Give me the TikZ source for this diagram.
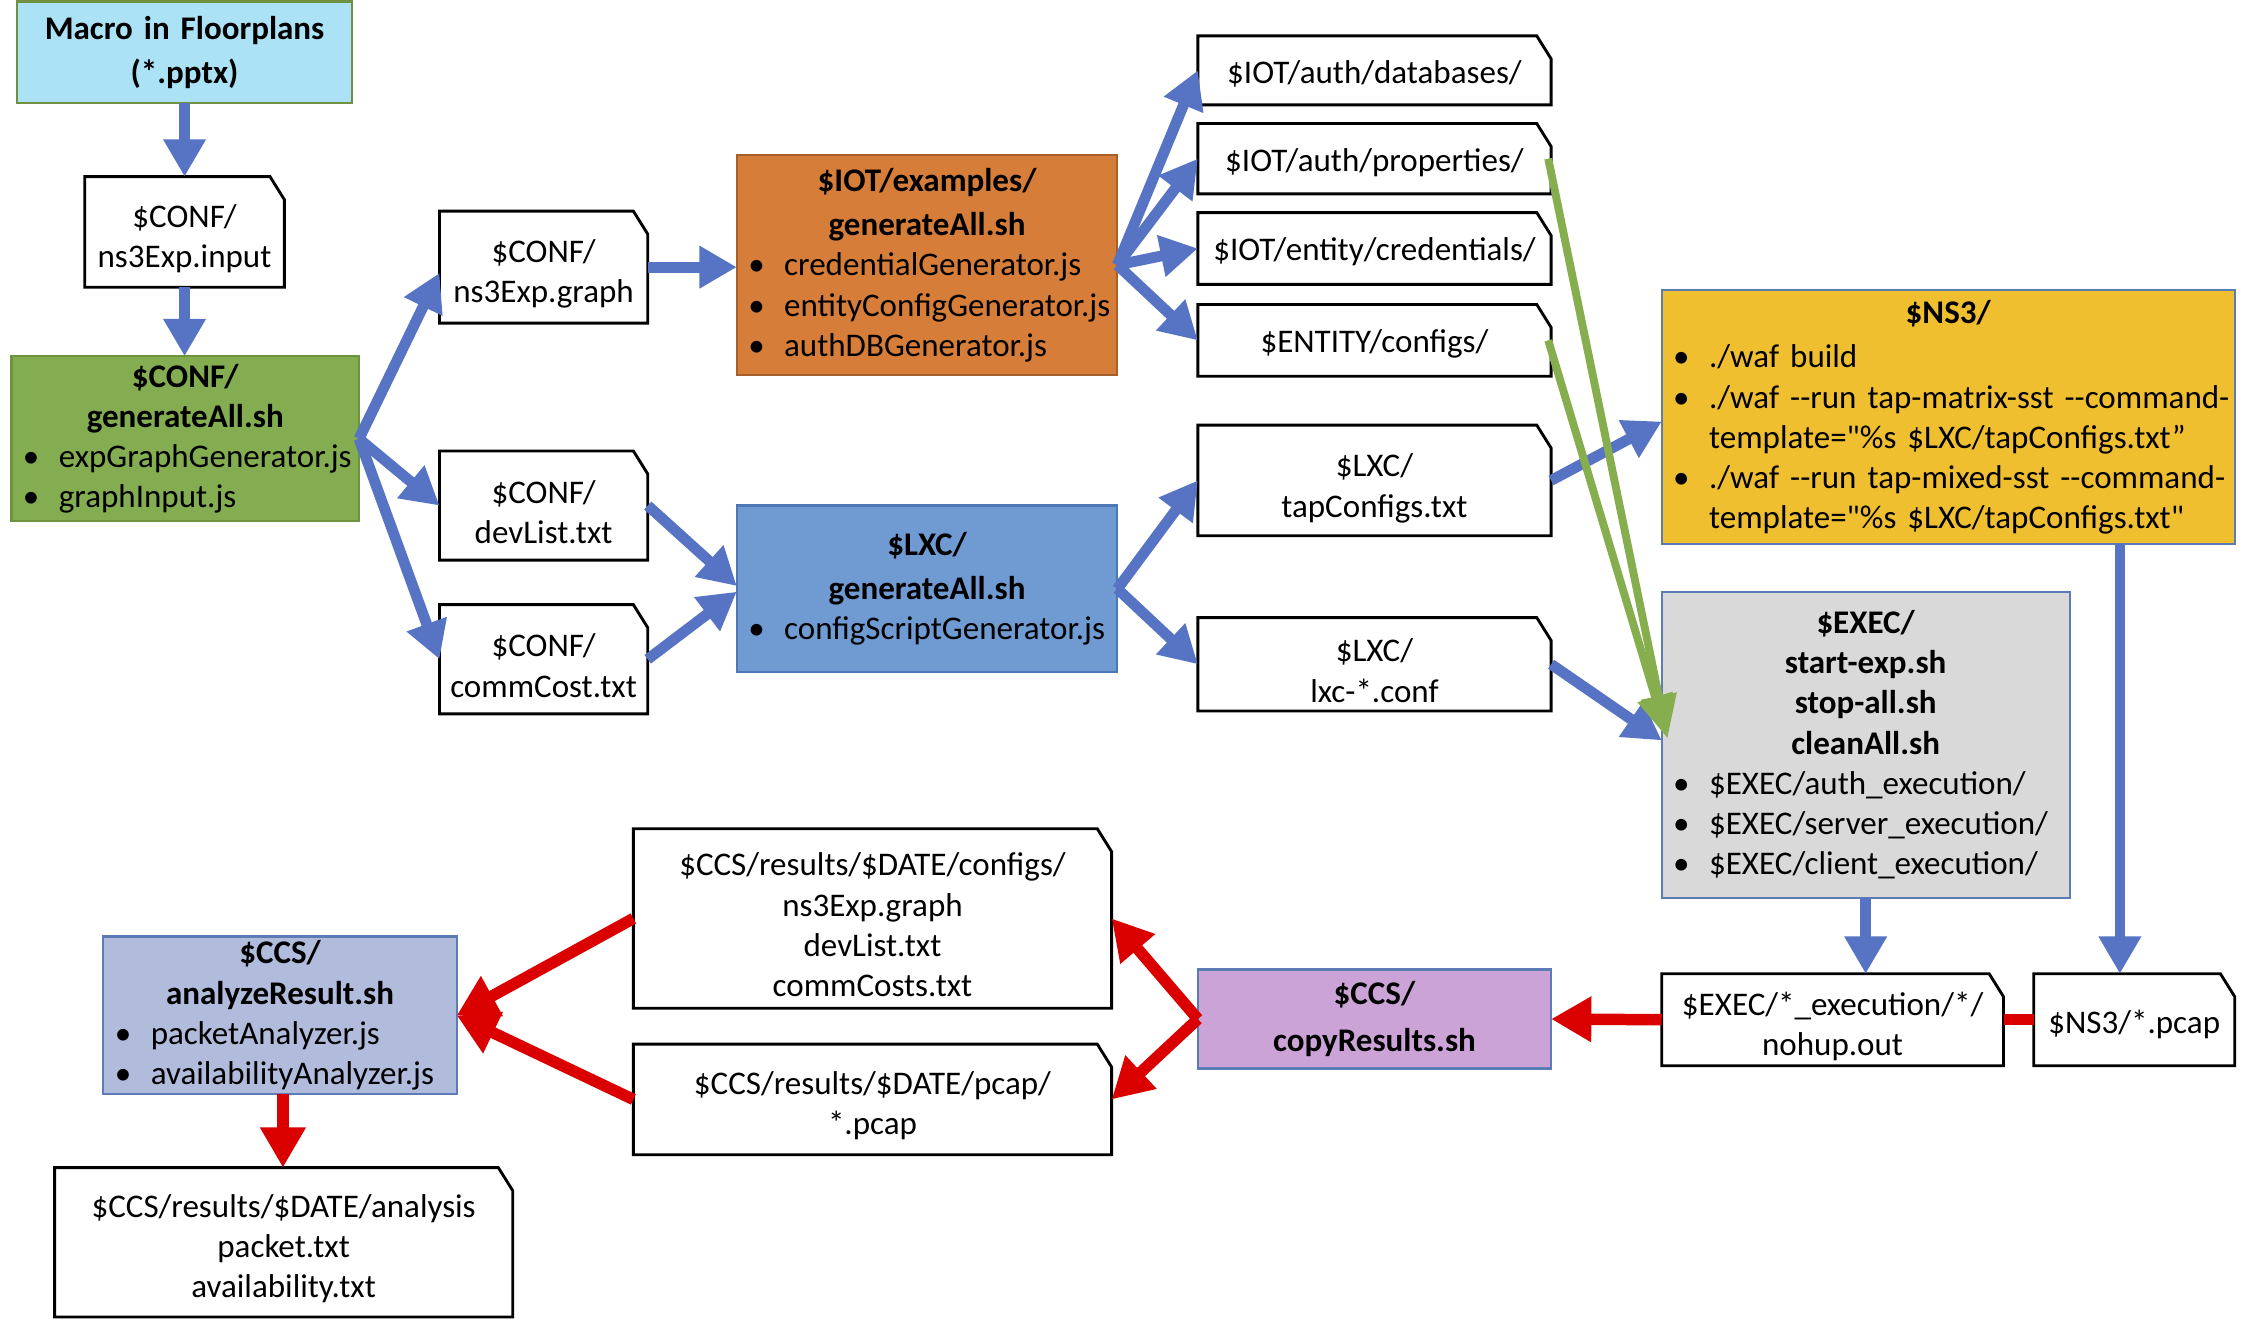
\documentclass[tikz,border=0pt]{standalone}
\usepackage{fontspec}
\newfontfamily\carl{Carlito}
\usetikzlibrary{arrows.meta}

\definecolor{flowblue}{HTML}{5673C4}
\definecolor{flowgreen}{HTML}{86AD4E}
\definecolor{flowred}{HTML}{DA0000}
\definecolor{macrofill}{HTML}{ABE2F5}
\definecolor{macroline}{HTML}{70913F}
\definecolor{conffill}{HTML}{84AD51}
\definecolor{confline}{HTML}{6E9440}
\definecolor{iotfill}{HTML}{D67D39}
\definecolor{iotline}{HTML}{A5602B}
\definecolor{lxcfill}{HTML}{6F9BD2}
\definecolor{lxcline}{HTML}{4C78B5}
\definecolor{nsfill}{HTML}{F0BF2F}
\definecolor{execfill}{HTML}{D9D9D9}
\definecolor{copyfill}{HTML}{CBA3D7}
\definecolor{anafill}{HTML}{B1BBDB}
\definecolor{slateline}{HTML}{5C7CB6}

\newcommand\itembul{\makebox[33pt][l]{\hspace{8pt}\textbullet}}
\newcommand\itemind{\hspace*{33pt}}

\tikzset{
  box/.style={rectangle, inner sep=0pt, outer sep=0pt, align=center,
    font=\carl\fontsize{23}{28}\selectfont},
  doc/.style={box},
  doctext/.style={box, yshift=-4.5pt},
  colbox/.style={box, draw, line width=1.5pt, align=left},
  docline/.style={draw=black, line width=2pt, fill=white, line join=miter},
  barrow/.style={draw=flowblue, line width=7.5pt, -{Triangle[width=28pt,length=26pt]}},
  garrow/.style={draw=flowgreen, line width=5.5pt, -{Triangle[width=24pt,length=30pt]}},
  rarrow/.style={draw=flowred, line width=8pt, -{Triangle[width=30pt,length=28pt]}},
  rline/.style={draw=flowred, line width=8pt},
}

\begin{document}
\begin{tikzpicture}[x=1pt,y=-1pt]
\useasboundingbox (0,0) rectangle (1568,924);

% coloured script boxes
\node[colbox, fill=macrofill, draw=macroline, align=center, text width=233pt, minimum height=71pt] (macro) at (128.5,36.5)
  {\vspace*{3pt}\bfseries Macro in Floorplans\\(*.pptx)};
\node[colbox, fill=conffill, draw=confline, text width=242pt, minimum height=115pt] (cg) at (129,305.5)
  {{\centering\bfseries \$CONF/\\generateAll.sh\par}\itembul expGraphGenerator.js\\\itembul graphInput.js};
\node[colbox, fill=iotfill, draw=iotline, text width=265pt, minimum height=153pt] (iot) at (645.5,184.5)
  {\vspace*{3pt}{\centering\bfseries \$IOT/examples/\\generateAll.sh\par}\itembul credentialGenerator.js\\\itembul entityConfigGenerator.js\\\itembul authDBGenerator.js};
\node[colbox, fill=lxcfill, draw=lxcline, text width=265pt, minimum height=116pt] (lxc) at (645.5,410)
  {\vspace*{3pt}{\centering\bfseries \$LXC/\\generateAll.sh\par}\itembul configScriptGenerator.js};
\node[colbox, fill=nsfill, draw=slateline, text width=399pt, minimum height=177pt] (ns3) at (1356.5,290.5)
  {\vspace*{3pt}{\centering\bfseries \$NS3/\par}\itembul ./waf build\\
   \itembul ./waf --run tap-matrix-sst --command-\\
   \itemind template="\%s \$LXC/tapConfigs.txt”\\
   \itembul ./waf --run tap-mixed-sst --command-\\
   \itemind template="\%s \$LXC/tapConfigs.txt"};
\node[colbox, fill=execfill, draw=slateline, text width=284pt, minimum height=213pt] (exec) at (1299,518.5)
  {{\centering\bfseries \$EXEC/\\start-exp.sh\\stop-all.sh\\cleanAll.sh\par}
   \itembul \$EXEC/auth\_execution/\\\itembul \$EXEC/server\_execution/\\\itembul \$EXEC/client\_execution/};
\node[colbox, fill=copyfill, draw=slateline, align=center, text width=246pt, minimum height=69pt] (copy) at (957,709.5)
  {\vspace*{5pt}\bfseries \$CCS/\\copyResults.sh};
\node[colbox, fill=anafill, draw=slateline, text width=246pt, minimum height=110pt] (ana) at (195,707)
  {{\centering\bfseries \$CCS/\\analyzeResult.sh\par}\itembul packetAnalyzer.js\\\itembul availabilityAnalyzer.js};

% file boxes (outlines drawn below)
\node[doc, minimum width=139pt, minimum height=77pt] (inp) at (128.5,161.5) {};
\node[doc, minimum width=145pt, minimum height=78pt] (graph) at (378.5,186) {};
\node[doc, minimum width=145pt, minimum height=76pt] (dev) at (378.5,352) {};
\node[doc, minimum width=145pt, minimum height=76pt] (cost) at (378.5,459) {};
\node[doc, minimum width=246pt, minimum height=48pt] (db) at (957,49) {};
\node[doc, minimum width=246pt, minimum height=49pt] (prop) at (957,110.5) {};
\node[doc, minimum width=246pt, minimum height=50pt] (cred) at (957,173) {};
\node[doc, minimum width=246pt, minimum height=50pt] (ent) at (957,237) {};
\node[doc, minimum width=246pt, minimum height=77pt] (tap) at (957,334.5) {};
\node[doc, minimum width=246pt, minimum height=65pt] (lxcc) at (957,462.5) {};
\node[doc, minimum width=238pt, minimum height=64pt] (nohup) at (1276,710) {};
\node[doc, minimum width=140pt, minimum height=64pt] (pcap) at (1486,710) {};
\node[doc, minimum width=333pt, minimum height=125pt] (cfgres) at (607.5,639.5) {};
\node[doc, minimum width=333pt, minimum height=77pt] (pcapres) at (607.5,765.5) {};
\node[doc, minimum width=319pt, minimum height=104pt] (anares) at (197.5,865) {};

\foreach \n in {inp,graph,dev,cost,db,prop,cred,ent,tap,lxcc,nohup,pcap,cfgres,pcapres,anares}
  \path[docline] (\n.south west) -- (\n.north west) -- ([xshift=-10pt]\n.north east)
    -- ([yshift=-16pt]\n.north east) -- (\n.south east) -- cycle;

\node[doctext] at (inp) {\$CONF/\\ns3Exp.input};
\node[doctext] at (graph) {\$CONF/\\ns3Exp.graph};
\node[doctext] at (dev) {\$CONF/\\devList.txt};
\node[doctext] at (cost) {\$CONF/\\commCost.txt};
\node[doctext, yshift=2pt] at (db) {\$IOT/auth/databases/};
\node[doctext, yshift=2pt] at (prop) {\$IOT/auth/properties/};
\node[doctext, yshift=2pt] at (cred) {\$IOT/entity/credentials/};
\node[doctext, yshift=2pt] at (ent) {\$ENTITY/configs/};
\node[doctext, yshift=-1pt] at (tap) {\$LXC/\\tapConfigs.txt};
\node[doctext] at (lxcc) {\$LXC/\\lxc-*.conf};
\node[doctext] at (nohup) {\$EXEC/*\_execution/*/\\nohup.out};
\node[doctext, yshift=1pt] at (pcap) {\$NS3/*.pcap};
\node[doctext] at (cfgres) {\$CCS/results/\$DATE/configs/\\ns3Exp.graph\\devList.txt\\commCosts.txt};
\node[doctext] at (pcapres) {\$CCS/results/\$DATE/pcap/\\*.pcap};
\node[doctext] at (anares) {\$CCS/results/\$DATE/analysis\\packet.txt\\availability.txt};

% generation flow
\draw[barrow] (macro.south) -- (macro.south |- inp.north);
\draw[barrow] (inp.south) -- (inp.south |- cg.north);
\draw[barrow] (cg.east) -- ([yshift=-4pt]graph.west);
\draw[barrow] (cg.east) -- (dev.west);
\draw[barrow] (cg.east) -- (cost.west);
\draw[barrow] (graph.east) -- (graph.east -| iot.west);
\draw[barrow] (dev.east) -- ([yshift=2pt]lxc.west);
\draw[barrow] (cost.east) -- ([yshift=-2pt]lxc.west);
\foreach \t in {db,prop,cred,ent}
  \draw[barrow] (iot.east) -- (\t.west);
\draw[barrow] (lxc.east) -- (tap.west);
\draw[barrow] (lxc.east) -- (lxcc.west);
\draw[barrow] (tap.east) -- ([yshift=-3pt]ns3.west);
\draw[barrow] (lxcc.east) -- ([yshift=3pt]exec.west);
\draw[barrow] (exec.south) -- (exec.south |- nohup.north);
\draw[barrow] ([xshift=119.5pt]ns3.south) -- ([xshift=-10pt]pcap.north);

% credentials and configs feed the execution scripts
\coordinate (gtip) at (1161,514);
\draw[garrow] ([xshift=-2pt]prop.east) -- (gtip);
\draw[garrow] ([xshift=-2pt]ent.east) -- (gtip);

% result collection
\draw[rline] (pcap.west) -- (nohup.east);
\draw[rarrow] (nohup.west) -- (copy.east);
\draw[rarrow] (copy.west) -- (cfgres.east);
\draw[rarrow] (copy.west) -- (pcapres.east);
\draw[rarrow] (cfgres.west) -- (ana.east);
\draw[rarrow] (pcapres.west) -- (ana.east);
\draw[rarrow] ([xshift=2pt]ana.south) -- ([xshift=2pt]ana.south |- anares.north);
\end{tikzpicture}
\end{document}
